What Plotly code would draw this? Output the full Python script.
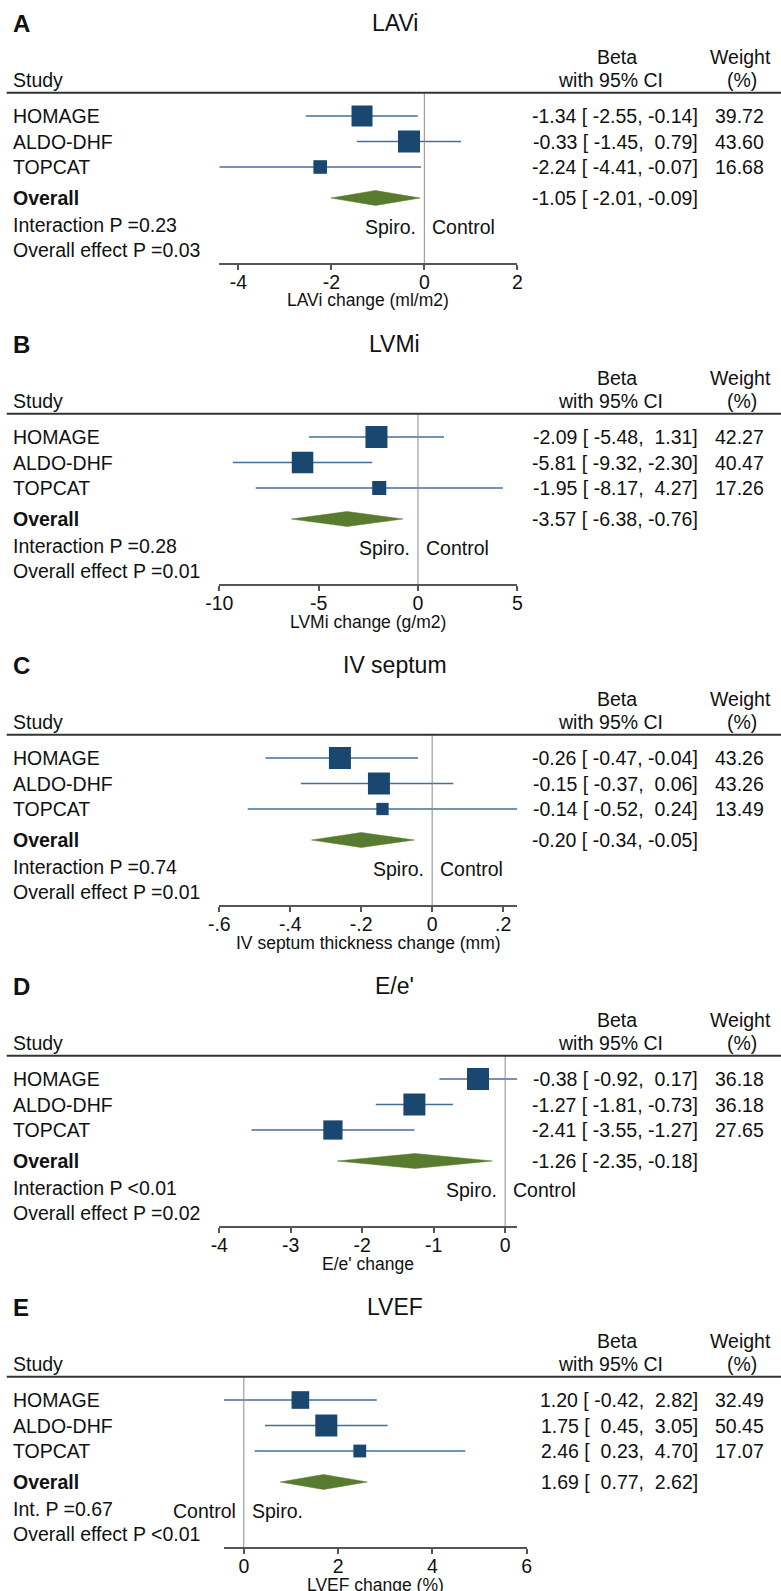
import plotly.graph_objects as go

W, H = 781, 1591

# ---------------- data ----------------
studies = ["HOMAGE", "ALDO-DHF", "TOPCAT"]
panel_letters = ["A", "B", "C", "D", "E"]
panel_titles = ["LAVi", "LVMi", "IV septum", "E/e'", "LVEF"]
axis_titles = ["LAVi change (ml/m2)", "LVMi change (g/m2)",
               "IV septum thickness change (mm)", "E/e' change", "LVEF change (%)"]

beta_A = [-1.34, -0.33, -2.24]; lo_A = [-2.55, -1.45, -4.41]; hi_A = [-0.14, 0.79, -0.07]
wt_A = [39.72, 43.60, 16.68]; overall_A = [-1.05, -2.01, -0.09]

beta_B = [-2.09, -5.81, -1.95]; lo_B = [-5.48, -9.32, -8.17]; hi_B = [1.31, -2.30, 4.27]
wt_B = [42.27, 40.47, 17.26]; overall_B = [-3.57, -6.38, -0.76]

beta_C = [-0.26, -0.15, -0.14]; lo_C = [-0.47, -0.37, -0.52]; hi_C = [-0.04, 0.06, 0.24]
wt_C = [43.26, 43.26, 13.49]; overall_C = [-0.20, -0.34, -0.05]

beta_D = [-0.38, -1.27, -2.41]; lo_D = [-0.92, -1.81, -3.55]; hi_D = [0.17, -0.73, -1.27]
wt_D = [36.18, 36.18, 27.65]; overall_D = [-1.26, -2.35, -0.18]

beta_E = [1.20, 1.75, 2.46]; lo_E = [-0.42, 0.45, 0.23]; hi_E = [2.82, 3.05, 4.70]
wt_E = [32.49, 50.45, 17.07]; overall_E = [1.69, 0.77, 2.62]

interaction_text = ["Interaction P =0.23", "Interaction P =0.28", "Interaction P =0.74",
                    "Interaction P <0.01", "Int. P =0.67"]
overall_p_text = ["Overall effect P =0.03", "Overall effect P =0.01", "Overall effect P =0.01",
                  "Overall effect P =0.02", "Overall effect P <0.01"]
left_side_label = ["Spiro.", "Spiro.", "Spiro.", "Spiro.", "Control"]
right_side_label = ["Control", "Control", "Control", "Control", "Spiro."]

tickvals_A = [-4, -2, 0, 2]; ticktext_A = ["-4", "-2", "0", "2"]
tickvals_B = [-10, -5, 0, 5]; ticktext_B = ["-10", "-5", "0", "5"]
tickvals_C = [-0.6, -0.4, -0.2, 0, 0.2]; ticktext_C = ["-.6", "-.4", "-.2", "0", ".2"]
tickvals_D = [-4, -3, -2, -1, 0]; ticktext_D = ["-4", "-3", "-2", "-1", "0"]
tickvals_E = [0, 2, 4, 6]; ticktext_E = ["0", "2", "4", "6"]

panels = [
    (beta_A, lo_A, hi_A, wt_A, overall_A, tickvals_A, ticktext_A),
    (beta_B, lo_B, hi_B, wt_B, overall_B, tickvals_B, ticktext_B),
    (beta_C, lo_C, hi_C, wt_C, overall_C, tickvals_C, ticktext_C),
    (beta_D, lo_D, hi_D, wt_D, overall_D, tickvals_D, ticktext_D),
    (beta_E, lo_E, hi_E, wt_E, overall_E, tickvals_E, ticktext_E),
]

# ---------------- style / layout constants ----------------
FONT = "Liberation Sans, Arial, sans-serif"
TXT = "#111111"
SQ_COLOR = "#1a476f"
CI_COLOR = "#436f9e"
DIAMOND_COLOR = "#587b2f"
PANEL_STEP = 321
ROW0_PX, ROW_STEP = 116.0, 25.5
HEADER_PX, AXIS_PX = 92.7, 263.0
axis_px = [(219.3, 517.3)] * 4 + [(224.0, 526.7)]
MAX_BOX = 22.0
DIAMOND_HALF_PX = 7.5
LEFT_X = 11.7
BETA_RIGHT, WEIGHT_RIGHT = 699, 765
LBL = 19.5


def row_of(px):
    return 1 + (px - ROW0_PX) / ROW_STEP


def py(px):
    return 1 - px / H


def fmt_ci(b, l, u):
    s = f"{b:.2f} [{l:6.2f},{u:6.2f}]"
    return s.replace(" ", "\u00a0")


fig = go.Figure()
annotations = []
shapes = []
layout_axes = {}

overall_row = row_of(198.0)
inter_row = row_of(224.5)
effect_row = row_of(250.0)
side_row = row_of(226.5)
dh = DIAMOND_HALF_PX / ROW_STEP


def ann(text, x, y, xanchor="left", size=LBL, bold=False, xr="paper", yr="paper", xshift=0):
    annotations.append(dict(
        text=f"<b>{text}</b>" if bold else text, x=x, y=y, xref=xr, yref=yr,
        xanchor=xanchor, yanchor="middle", showarrow=False, xshift=xshift,
        align=xanchor if xanchor != "center" else "center", borderpad=0,
        font=dict(family=FONT, size=size, color=TXT)))


for i, (beta, lo, hi, wt, ov, tv, tt) in enumerate(panels):
    o = PANEL_STEP * i
    sfx = "" if i == 0 else str(i + 1)
    xref, yref = "x" + sfx, "y" + sfx
    rows = [1, 2, 3]
    wmax = max(wt)
    sizes = [MAX_BOX * (w / wmax) ** 0.5 for w in wt]

    fig.add_trace(go.Scatter(
        x=beta, y=rows, mode="markers", xaxis=xref, yaxis=yref, opacity=1,
        marker=dict(symbol="square", size=sizes, color=SQ_COLOR, opacity=1,
                    line=dict(width=0)),
        error_x=dict(type="data", symmetric=False,
                     array=[h - b for h, b in zip(hi, beta)],
                     arrayminus=[b - l for b, l in zip(beta, lo)],
                     color=CI_COLOR, thickness=1.6, width=0),
        cliponaxis=False, showlegend=False, hoverinfo="skip"))

    ob, ol, ou = ov
    fig.add_trace(go.Scatter(
        x=[ol, ob, ou, ob, ol], y=[overall_row, overall_row - dh, overall_row,
                                   overall_row + dh, overall_row],
        mode="lines", fill="toself", fillcolor=DIAMOND_COLOR,
        line=dict(color=DIAMOND_COLOR, width=0.5), xaxis=xref, yaxis=yref,
        showlegend=False, hoverinfo="skip"))

    xmin = min(tv[0], min(lo))
    xmax = max(tv[-1], max(hi))
    x0p, x1p = axis_px[i]
    layout_axes["xaxis" + sfx] = dict(
        domain=[x0p / W, x1p / W], range=[xmin, xmax], anchor=yref,
        showline=True, linecolor="#555555", linewidth=1.5,
        ticks="outside", ticklen=5, tickwidth=1.5, tickcolor="#555555",
        ticklabelstandoff=-4,
        tickvals=tv, ticktext=tt, tickfont=dict(family=FONT, size=19.5, color=TXT),
        showgrid=False, zeroline=False, fixedrange=True)
    layout_axes["yaxis" + sfx] = dict(
        domain=[py(o + AXIS_PX), py(o + HEADER_PX)],
        range=[row_of(AXIS_PX), row_of(HEADER_PX)], anchor=xref,
        visible=False, fixedrange=True)

    shapes.append(dict(type="line", xref=xref, yref=yref + " domain",
                       x0=0, x1=0, y0=0, y1=1, line=dict(color="#8a8a8a", width=1)))
    shapes.append(dict(type="line", xref="paper", yref="paper", x0=6.7 / W, x1=1,
                       y0=py(o + HEADER_PX), y1=py(o + HEADER_PX),
                       line=dict(color="#333333", width=2)))

    ann(panel_letters[i], 12 / W, py(o + 23.3), size=24, bold=True)
    ann(panel_titles[i], 395 / W, py(o + 23.3), xanchor="center", size=23)
    ann("Beta", 616.7 / W, py(o + 56.7), xanchor="center")
    ann("with 95% CI", 610 / W, py(o + 80), xanchor="center")
    ann("Weight", 740 / W, py(o + 56.7), xanchor="center")
    ann("(%)", 741.7 / W, py(o + 80), xanchor="center")
    ann("Study", LEFT_X / W, py(o + 80))

    for r, name, b, l, u, w in zip(rows, studies, beta, lo, hi, wt):
        ann(name, LEFT_X / W, r, yr=yref)
        ann(fmt_ci(b, l, u), BETA_RIGHT / W, r, xanchor="right", yr=yref)
        ann(f"{w:.2f}", WEIGHT_RIGHT / W, r, xanchor="right", yr=yref)
    ann("Overall", LEFT_X / W, overall_row, bold=True, yr=yref)
    ann(fmt_ci(ob, ol, ou), BETA_RIGHT / W, overall_row, xanchor="right", yr=yref)
    ann(interaction_text[i], LEFT_X / W, inter_row, yr=yref)
    ann(overall_p_text[i], LEFT_X / W, effect_row, yr=yref)
    ann(left_side_label[i], 0, side_row, xanchor="right", xr=xref, yr=yref, xshift=-7)
    ann(right_side_label[i], 0, side_row, xanchor="left", xr=xref, yr=yref, xshift=7)
    ann(axis_titles[i], (x0p + x1p) / 2 / W, py(o + 300.5), xanchor="center", size=17.5)

fig.update_layout(
    width=W, height=H, margin=dict(l=0, r=0, t=0, b=0, autoexpand=False),
    paper_bgcolor="white", plot_bgcolor="white",
    annotations=annotations, shapes=shapes, showlegend=False,
    font=dict(family=FONT, color=TXT), **layout_axes)

fig.write_html("out.html", config={"displayModeBar": False},
               post_script="document.body.style.margin='0';"
                           "document.body.style.overflow='hidden';")
